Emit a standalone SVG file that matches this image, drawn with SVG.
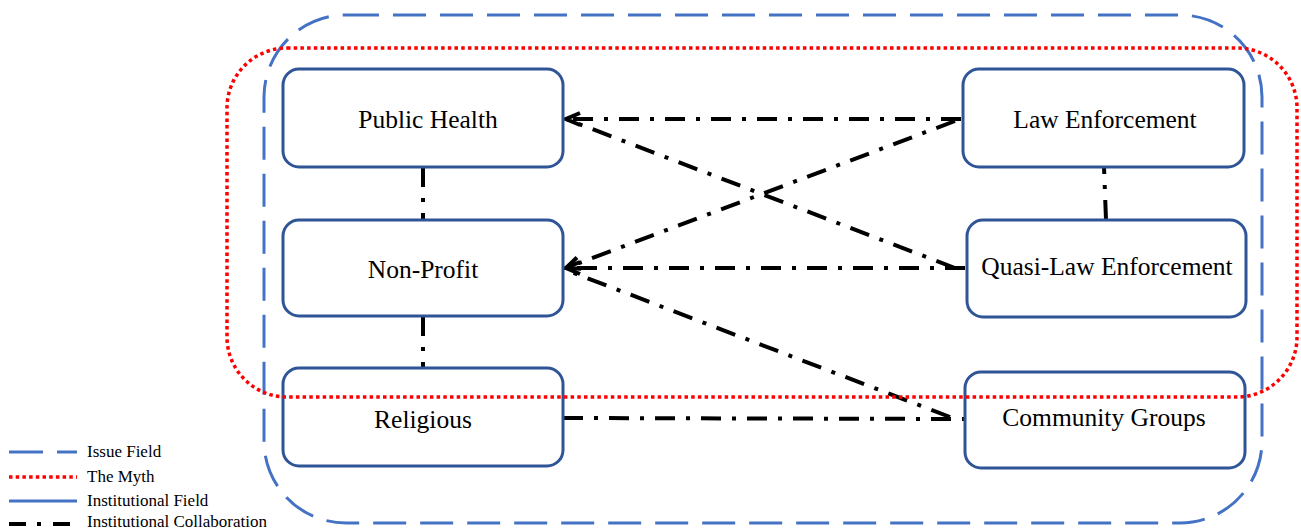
<svg xmlns="http://www.w3.org/2000/svg" width="1301" height="531" viewBox="0 0 1301 531">
<style>
.issue{fill:none;stroke:#4472C4;stroke-width:3;stroke-dasharray:33 14}
.myth{fill:none;stroke:#FF0000;stroke-width:3.5;stroke-dasharray:3.5 3.2}
.node rect{fill:#fff;stroke:#2F5597;stroke-width:3}
.node text{font-family:"Liberation Serif","Times New Roman",serif;font-size:25.5px;fill:#000;text-anchor:middle}
.collab{fill:none;stroke:#000;stroke-width:4;stroke-dasharray:20 11 4 11}
.legend text{font-family:"Liberation Serif","Times New Roman",serif;font-size:17px;fill:#000}
</style>
<defs>
<marker id="arr" markerUnits="userSpaceOnUse" markerWidth="24" markerHeight="20" viewBox="-20 -10 24 20" refX="0" refY="0" orient="auto">
<path d="M-14,-6 L0,0 L-14,6" fill="none" stroke="#000" stroke-width="4"/>
</marker>
</defs>
<rect width="1301" height="531" fill="#fff"/>
<g id="connectors">
<line class="collab" x1="961" y1="119" x2="566" y2="119" marker-end="url(#arr)"/>
<line class="collab" x1="955" y1="268" x2="566" y2="119"/>
<line class="collab" x1="955" y1="121" x2="566" y2="268" marker-end="url(#arr)"/>
<line class="collab" x1="965" y1="268" x2="566" y2="268" marker-end="url(#arr)"/>
<line class="collab" x1="950" y1="417" x2="566" y2="270"/>
<line class="collab" x1="563" y1="418" x2="965" y2="419"/>
<line class="collab" x1="423" y1="167" x2="423" y2="220"/>
<line class="collab" x1="423" y1="316" x2="423" y2="368"/>
<line class="collab" x1="1106" y1="220" x2="1104" y2="167"/>
</g>
<g id="node-public-health" class="node">
<rect x="283" y="69" width="280" height="98" rx="16"/>
<text x="428" y="128">Public Health</text>
</g>
<g id="node-law-enforcement" class="node">
<rect x="963" y="69" width="281" height="98" rx="16"/>
<text x="1105" y="128">Law Enforcement</text>
</g>
<g id="node-non-profit" class="node">
<rect x="283" y="220" width="280" height="96" rx="16"/>
<text x="423" y="278">Non-Profit</text>
</g>
<g id="node-quasi-law-enforcement" class="node">
<rect x="967" y="220" width="279" height="97" rx="16"/>
<text x="1107" y="275">Quasi-Law Enforcement</text>
</g>
<g id="node-religious" class="node">
<rect x="283" y="368" width="280" height="98" rx="16"/>
<text x="423" y="428">Religious</text>
</g>
<g id="node-community-groups" class="node">
<rect x="965" y="372" width="280" height="96" rx="16"/>
<text x="1104" y="426">Community Groups</text>
</g>
<g id="fields">
<rect class="issue" x="264" y="15" width="998" height="508" rx="82"/>
<rect class="myth" x="227" y="48" width="1070" height="349" rx="60"/>
</g>
<g id="legend" class="legend">
<line x1="9" y1="452" x2="77" y2="452" stroke="#4472C4" stroke-width="3" stroke-dasharray="34 14"/>
<line x1="9" y1="477" x2="77" y2="477" stroke="#FF0000" stroke-width="3.5" stroke-dasharray="3.5 3.2"/>
<line x1="9" y1="501" x2="77" y2="501" stroke="#4472C4" stroke-width="3"/>
<line x1="9" y1="524" x2="77" y2="524" stroke="#000" stroke-width="4" stroke-dasharray="17 11 4 12"/>
<text x="87" y="457">Issue Field</text>
<text x="87" y="482">The Myth</text>
<text x="87" y="506">Institutional Field</text>
<text x="87" y="527">Institutional Collaboration</text>
</g>
</svg>
